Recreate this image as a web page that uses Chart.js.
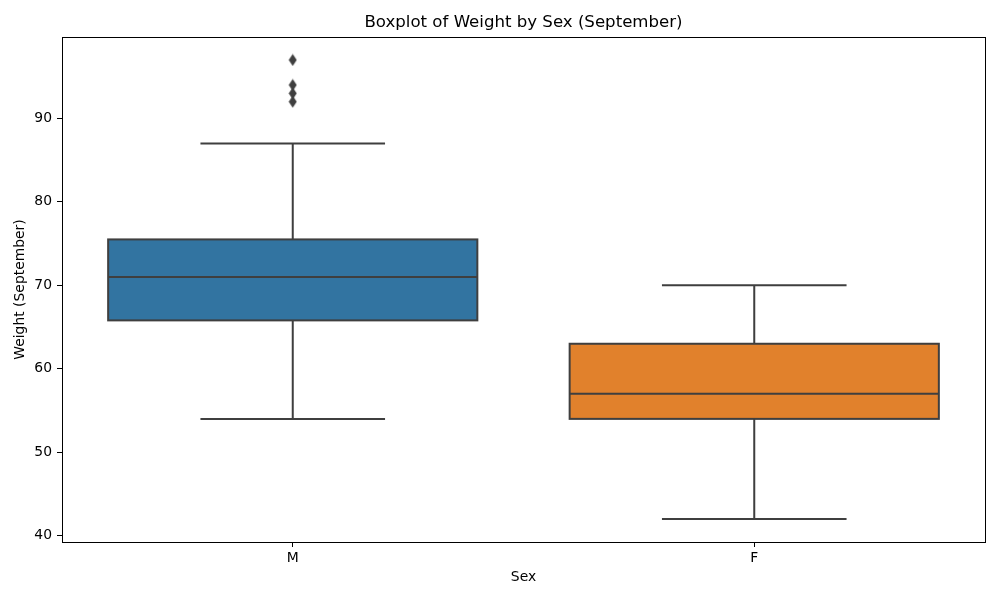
<!DOCTYPE html>
<html>
<head>
<meta charset="utf-8">
<script src="https://cdn.jsdelivr.net/npm/chart.js@4/dist/chart.umd.min.js"></script>
<style>
  html, body { margin: 0; padding: 0; background: #fff; }
  #wrap { width: 1000px; height: 600px; }
</style>
</head>
<body>
<div id="wrap"><canvas id="boxChart"></canvas></div>
<script>
// Datos
const categories = ['M', 'F'];
const q1 = [65.8, 54];
const medians = [71, 57];
const q3 = [75.5, 63];
const whiskerLow = [54, 42];
const whiskerHigh = [87, 70];
const outliersM = [97, 94, 93, 92];
const yTicks = [40, 50, 60, 70, 80, 90];
const boxColors = ['#3274a1', '#e1812c'];
const chartTitle = 'Boxplot of Weight by Sex (September)';

const lineColor = '#3f3f3f';
const fontFamily = '"DejaVu Sans", sans-serif';

// marcador de diamante delgado (como 'd' de matplotlib)
function thinDiamond() {
    const c = document.createElement('canvas');
    c.width = 9; c.height = 13;
    const g = c.getContext('2d');
    g.fillStyle = lineColor;
    g.beginPath();
    g.moveTo(4.5, 0.5);
    g.lineTo(8.5, 6.5);
    g.lineTo(4.5, 12.5);
    g.lineTo(0.5, 6.5);
    g.closePath();
    g.fill();
    return c;
}

// bigotes, topes, contorno de caja, medianas, marco y título
const boxPlugin = {
    id: 'boxParts',
    beforeDatasetsDraw(chart) {
        const ctx = chart.ctx;
        const y = chart.scales.y;
        const bars = chart.getDatasetMeta(0).data;
        ctx.save();
        ctx.strokeStyle = lineColor;
        ctx.lineWidth = 2;
        bars.forEach((bar, i) => {
            const cx = bar.x;
            const half = bar.width / 4;
            ctx.beginPath();
            ctx.moveTo(cx, y.getPixelForValue(whiskerHigh[i]));
            ctx.lineTo(cx, y.getPixelForValue(q3[i]));
            ctx.moveTo(cx, y.getPixelForValue(q1[i]));
            ctx.lineTo(cx, y.getPixelForValue(whiskerLow[i]));
            ctx.moveTo(cx - half, y.getPixelForValue(whiskerHigh[i]));
            ctx.lineTo(cx + half, y.getPixelForValue(whiskerHigh[i]));
            ctx.moveTo(cx - half, y.getPixelForValue(whiskerLow[i]));
            ctx.lineTo(cx + half, y.getPixelForValue(whiskerLow[i]));
            ctx.stroke();
        });
        ctx.restore();
    },
    afterDatasetsDraw(chart) {
        const ctx = chart.ctx;
        const y = chart.scales.y;
        const bars = chart.getDatasetMeta(0).data;
        ctx.save();
        ctx.strokeStyle = lineColor;
        ctx.lineWidth = 2;
        bars.forEach((bar, i) => {
            const left = bar.x - bar.width / 2;
            const top = y.getPixelForValue(q3[i]);
            const bottom = y.getPixelForValue(q1[i]);
            ctx.strokeRect(left, top, bar.width, bottom - top);
            const my = y.getPixelForValue(medians[i]);
            ctx.beginPath();
            ctx.moveTo(left, my);
            ctx.lineTo(left + bar.width, my);
            ctx.stroke();
        });
        ctx.restore();
    },
    afterDraw(chart) {
        const a = chart.chartArea;
        const ctx = chart.ctx;
        ctx.save();
        ctx.strokeStyle = '#000';
        ctx.lineWidth = 1;
        ctx.strokeRect(Math.round(a.left) + 0.5, Math.round(a.top) + 0.5,
            Math.round(a.right - a.left), Math.round(a.bottom - a.top));
        // título centrado sobre el área del gráfico
        ctx.fillStyle = '#000';
        ctx.font = '16.6px ' + fontFamily;
        ctx.textAlign = 'center';
        ctx.textBaseline = 'middle';
        ctx.fillText(chartTitle, (a.left + a.right) / 2, 22.5);
        ctx.restore();
    }
};

function initializeChart() {
    const ctx = document.getElementById('boxChart').getContext('2d');
    new Chart(ctx, {
        type: 'bar',
        data: {
            labels: categories,
            datasets: [{
                label: 'Caja',
                data: categories.map((c, i) => [q1[i], q3[i]]),
                backgroundColor: boxColors,
                borderWidth: 0,
                barPercentage: 0.8,
                categoryPercentage: 1.0
            }, {
                type: 'scatter',
                label: 'Atípicos',
                data: outliersM.map(v => ({ x: 'M', y: v })),
                pointStyle: thinDiamond(),
                pointRadius: 5
            }]
        },
        options: {
            responsive: true,
            maintainAspectRatio: false,
            animation: false,
            layout: { padding: { right: 15, left: 0, top: 37, bottom: 0 } },
            plugins: {
                legend: { display: false },
                tooltip: { enabled: false },
                title: { display: false }
            },
            scales: {
                x: {
                    type: 'category',
                    offset: true,
                    grid: { display: true, drawOnChartArea: false, offset: false, tickLength: 5, color: '#000', tickColor: '#000' },
                    border: { display: false },
                    ticks: { color: '#000', font: { family: fontFamily, size: 13.9 }, padding: 3 },
                    title: { display: true, text: 'Sex', color: '#000', font: { family: fontFamily, size: 13.9 }, padding: { top: 4, bottom: 14 } },
                    afterFit(scale) { scale.height = 58; }
                },
                y: {
                    min: 39.25,
                    max: 99.75,
                    grid: { display: true, drawOnChartArea: false, tickLength: 5, color: '#000', tickColor: '#000' },
                    border: { display: false },
                    ticks: { color: '#000', font: { family: fontFamily, size: 13.9 }, padding: 5 },
                    title: { display: true, text: 'Weight (September)', color: '#000', font: { family: fontFamily, size: 13.9 }, padding: { top: 12, bottom: 6 } },
                    afterBuildTicks(scale) { scale.ticks = yTicks.map(v => ({ value: v })); },
                    afterFit(scale) { scale.width = 62; }
                }
            }
        },
        plugins: [boxPlugin]
    });
}

document.addEventListener('DOMContentLoaded', initializeChart);
</script>
</body>
</html>
